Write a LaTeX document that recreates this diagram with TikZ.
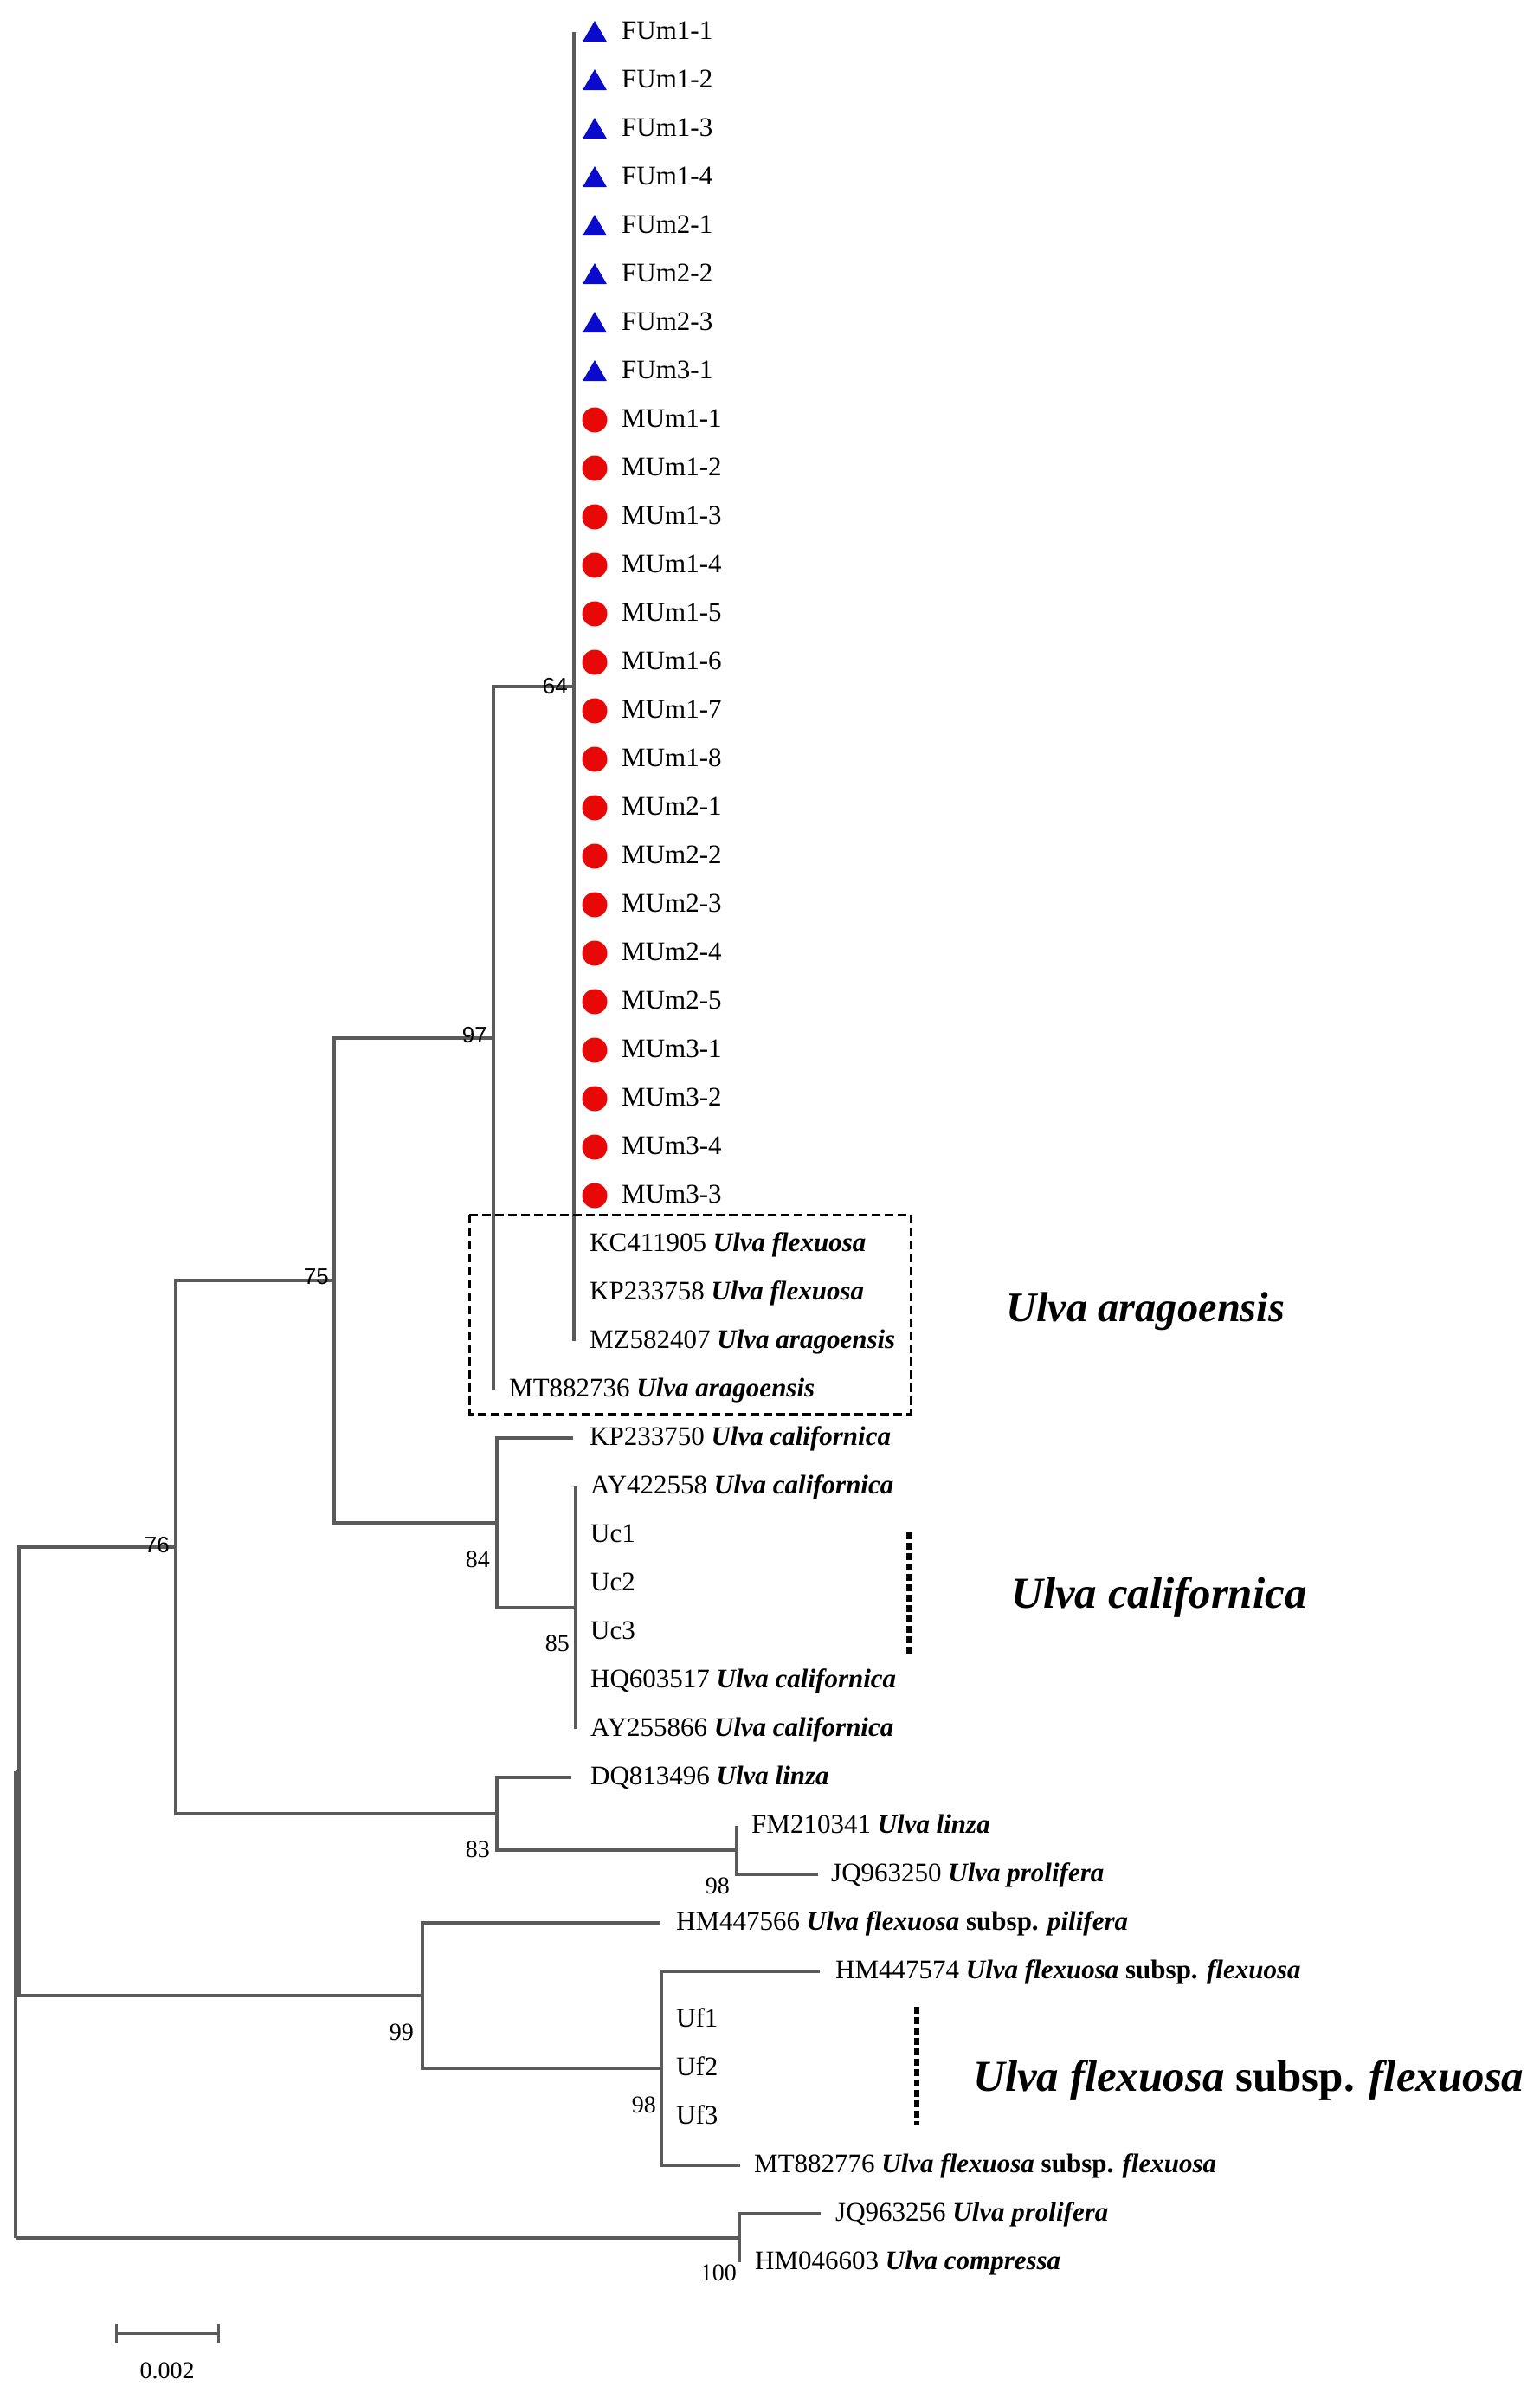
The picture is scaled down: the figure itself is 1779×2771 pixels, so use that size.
\documentclass[tikz,border=0pt]{standalone}
\usepackage{fontspec}
\setmainfont{Liberation Serif}
\newfontfamily\arialfont{Liberation Sans}
\usetikzlibrary{shapes.geometric}
\definecolor{branchgray}{RGB}{90,90,90}
\definecolor{tblue}{RGB}{10,10,205}
\definecolor{cred}{RGB}{232,8,8}
\newcommand\spname[1]{\textbf{\textit{#1}}}
\newcommand\subspw{\textbf{subsp.}}
\begin{document}
\begin{tikzpicture}[x=1pt,y=-1pt,
  br/.style={draw=branchgray,line width=3.5pt},
  leaf/.style={anchor=base west,inner sep=0pt,font=\fontsize{31}{36}\selectfont},
  boot/.style={anchor=base east,inner sep=0pt,font=\fontsize{28}{32}\selectfont},
  bootsans/.style={anchor=base east,inner sep=0pt,font=\arialfont\fontsize{26}{30}\selectfont},
  big/.style={anchor=base west,inner sep=0pt,font=\fontsize{51}{60}\selectfont},
  tri/.style={regular polygon,regular polygon sides=3,fill=tblue,minimum size=32pt,inner sep=0pt},
  reddot/.style={circle,fill=cred,minimum size=29pt,inner sep=0pt},
  boxdash/.style={draw=black,line width=3pt,dash pattern=on 10pt off 5pt},
  bardash/.style={draw=black,line width=6pt,dash pattern=on 8pt off 4pt},
]
\useasboundingbox (0,0) rectangle (1779,2771);
\fill[white] (0,0) rectangle (1779,2771);

% ---------- internal nodes ----------
\coordinate (n64)  at (663,793);
\coordinate (n97)  at (570,1199);
\coordinate (n85)  at (665,1857);
\coordinate (n84)  at (574,1759);
\coordinate (n75)  at (386,1479);
\coordinate (n98a) at (851,2137);
\coordinate (n83)  at (574,2095);
\coordinate (n76)  at (203,1787);
\coordinate (n98b) at (764,2389);
\coordinate (n99)  at (488,2305);
\coordinate (nA)   at (22,2046);
\coordinate (n100) at (854,2585);
\coordinate (root) at (18,2315);

% ---------- branch ends ----------
\coordinate (e0)  at (663,37);
\coordinate (e27) at (663,1549);
\coordinate (e28) at (570,1605);
\coordinate (e29) at (662,1661);
\coordinate (e30) at (665,1717);
\coordinate (e35) at (665,1997);
\coordinate (e36) at (660,2053);
\coordinate (e37) at (851,2109);
\coordinate (e38) at (945,2165);
\coordinate (e39) at (763,2221);
\coordinate (e40) at (947,2277);
\coordinate (e44) at (855,2501);
\coordinate (e45) at (948,2557);
\coordinate (e46) at (854,2613);
\coordinate (rA)  at (18,2046);
\coordinate (r100) at (18,2585);

% ---------- branches ----------
\draw[br] (n64) |- (e0);
\draw[br] (n64) |- (e27);
\draw[br] (n97) |- (n64);
\draw[br] (n97) |- (e28);
\draw[br] (n85) |- (e30);
\draw[br] (n85) |- (e35);
\draw[br] (n84) |- (e29);
\draw[br] (n84) |- (n85);
\draw[br] (n75) |- (n97);
\draw[br] (n75) |- (n84);
\draw[br] (n98a) |- (e37);
\draw[br] (n98a) |- (e38);
\draw[br] (n83) |- (e36);
\draw[br] (n83) |- (n98a);
\draw[br] (n76) |- (n75);
\draw[br] (n76) |- (n83);
\draw[br] (n98b) |- (e40);
\draw[br] (n98b) |- (e44);
\draw[br] (n99) |- (e39);
\draw[br] (n99) |- (n98b);
\draw[br] (nA) |- (n76);
\draw[br] (nA) |- (n99);
\draw[br] (n100) |- (e45);
\draw[br] (n100) |- (e46);
\draw[br] (rA) -- (nA);
\draw[br] (rA) -- (r100);
\draw[br] (r100) -- (n100);

% ---------- sample leaves with markers ----------
\foreach \lab [count=\i from 0] in {FUm1-1,FUm1-2,FUm1-3,FUm1-4,FUm2-1,FUm2-2,FUm2-3,FUm3-1}{
  \pgfmathsetmacro\yy{37+56*\i}
  \node[tri] (m\i) at (687,\yy+3) {};
  \node[leaf] (l\i) at (718,\yy+8) {\lab};
}
\foreach \lab [count=\i from 8] in {MUm1-1,MUm1-2,MUm1-3,MUm1-4,MUm1-5,MUm1-6,MUm1-7,MUm1-8,MUm2-1,MUm2-2,MUm2-3,MUm2-4,MUm2-5,MUm3-1,MUm3-2,MUm3-4,MUm3-3}{
  \pgfmathsetmacro\yy{37+56*\i}
  \node[reddot] (m\i) at (687,\yy) {};
  \node[leaf] (l\i) at (718,\yy+8) {\lab};
}

% ---------- reference leaves ----------
\node[leaf] (l25) at (681,1445) {KC411905 \spname{Ulva flexuosa}};
\node[leaf] (l26) at (681,1501) {KP233758 \spname{Ulva flexuosa}};
\node[leaf] (l27) at (681,1557) {MZ582407 \spname{Ulva aragoensis}};
\node[leaf] (l28) at (588,1613) {MT882736 \spname{Ulva aragoensis}};
\node[leaf] (l29) at (681,1669) {KP233750 \spname{Ulva californica}};
\node[leaf] (l30) at (682,1725) {AY422558 \spname{Ulva californica}};
\node[leaf] (l31) at (682,1781) {Uc1};
\node[leaf] (l32) at (682,1837) {Uc2};
\node[leaf] (l33) at (682,1893) {Uc3};
\node[leaf] (l34) at (682,1949) {HQ603517 \spname{Ulva californica}};
\node[leaf] (l35) at (682,2005) {AY255866 \spname{Ulva californica}};
\node[leaf] (l36) at (682,2061) {DQ813496 \spname{Ulva linza}};
\node[leaf] (l37) at (868,2117) {FM210341 \spname{Ulva linza}};
\node[leaf] (l38) at (960,2173) {JQ963250 \spname{Ulva prolifera}};
\node[leaf] (l39) at (781,2229) {HM447566 \spname{Ulva flexuosa} \subspw{} \spname{pilifera}};
\node[leaf] (l40) at (965,2285) {HM447574 \spname{Ulva flexuosa} \subspw{} \spname{flexuosa}};
\node[leaf] (l41) at (781,2341) {Uf1};
\node[leaf] (l42) at (781,2397) {Uf2};
\node[leaf] (l43) at (781,2453) {Uf3};
\node[leaf] (l44) at (871,2509) {MT882776 \spname{Ulva flexuosa} \subspw{} \spname{flexuosa}};
\node[leaf] (l45) at (965,2565) {JQ963256 \spname{Ulva prolifera}};
\node[leaf] (l46) at (872,2621) {HM046603 \spname{Ulva compressa}};

% ---------- bootstrap values ----------
\node[bootsans] (b64) at (656,801) {64};
\node[bootsans] (b97) at (563,1204) {97};
\node[bootsans] (b75) at (380,1483) {75};
\node[bootsans] (b76) at (196,1793) {76};
\node[boot] (b84) at (566,1810) {84};
\node[boot] (b85) at (658,1907) {85};
\node[boot] (b83) at (566,2145) {83};
\node[boot] (b98a) at (843,2187) {98};
\node[boot] (b99) at (478,2356) {99};
\node[boot] (b98b) at (758,2440) {98};
\node[boot] (b100) at (851,2634) {100};

% ---------- group marks ----------
\coordinate (bx1) at (542,1403);
\coordinate (bx2) at (1052,1633);
\draw[boxdash] (bx1) rectangle (bx2);
\coordinate (uc1) at (1050,1770);
\coordinate (uc2) at (1050,1913);
\draw[bardash] (uc1) -- (uc2);
\coordinate (uf1) at (1059,2318);
\coordinate (uf2) at (1059,2455);
\draw[bardash] (uf1) -- (uf2);

\node[big,font=\fontsize{48.5}{58}\selectfont] (g1) at (1162,1526) {\spname{Ulva aragoensis}};
\node[big] (g2) at (1168,1857) {\spname{Ulva californica}};
\node[big] (g3) at (1124,2415) {\spname{Ulva flexuosa} \subspw{} \spname{flexuosa}};

% ---------- scale bar ----------
\coordinate (s1) at (134,2695);
\coordinate (s2) at (252,2695);
\draw[br,line width=3pt] (s1) -- (s2);
\draw[br,line width=3pt] ([yshift=-11pt]s1) -- ([yshift=11pt]s1);
\draw[br,line width=3pt] ([yshift=-11pt]s2) -- ([yshift=11pt]s2);
\node[anchor=base,inner sep=0pt,font=\fontsize{28}{32}\selectfont] (slab) at (193,2747) {0.002};
\end{tikzpicture}
\end{document}
